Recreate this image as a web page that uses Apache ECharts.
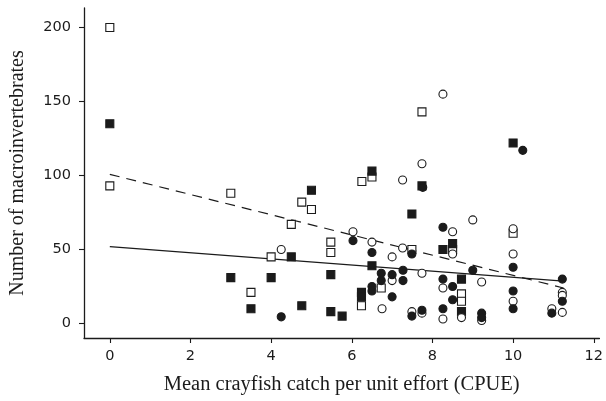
<!DOCTYPE html>
<html>
<head>
<meta charset="utf-8">
<script src="https://cdn.jsdelivr.net/npm/echarts@6/dist/echarts.min.js"></script>
<style>
  html, body { margin: 0; padding: 0; background: #fff; }
  #chart { width: 606px; height: 401px; }
</style>
</head>
<body>
<div id="chart"></div>
<script>
// tick labels
const xTicks = [0, 2, 4, 6, 8, 10, 12];
const yTicks = [0, 50, 100, 150, 200];

// points: [CPUE, count]
const filledSquares = [
  [0, 135], [3, 31], [3.5, 10], [4, 31], [4.5, 45], [4.76, 12], [5.0, 90],
  [5.48, 33], [5.48, 8], [5.76, 5], [6.24, 21], [6.24, 18], [6.5, 103],
  [6.5, 39], [7.49, 74], [7.74, 93], [8.26, 50], [8.5, 54], [8.72, 30],
  [8.72, 8], [10, 122]
];
const openSquares = [
  [0, 200], [0, 93], [3, 88], [3.5, 21], [4, 45], [4.5, 67], [4.76, 82],
  [5.0, 77], [5.48, 55], [5.48, 48], [6.25, 96], [6.5, 99], [6.24, 12],
  [6.73, 24], [7.49, 50], [7.74, 143], [8.5, 50], [8.72, 20], [8.72, 15],
  [10, 61]
];
const filledCircles = [
  [4.25, 4.5], [6.03, 56], [6.5, 48], [6.5, 25], [6.5, 22], [6.73, 34],
  [6.73, 29], [7.0, 33], [7.0, 18], [7.27, 36], [7.27, 29], [7.49, 47],
  [7.49, 5], [7.76, 92], [7.74, 9], [8.26, 65], [8.26, 30], [8.26, 10],
  [8.5, 25], [8.5, 16], [9.0, 36], [9.22, 7], [9.22, 4], [10, 38], [10, 22],
  [10, 10], [10.24, 117], [10.96, 7], [11.22, 30], [11.22, 15]
];
const openCircles = [
  [4.25, 50], [6.03, 62], [6.5, 55], [6.75, 10], [7.0, 45], [7.0, 29],
  [7.26, 97], [7.26, 51], [7.74, 108], [7.74, 34], [7.49, 8], [7.74, 7],
  [8.26, 155], [8.26, 24], [8.26, 3], [8.5, 62], [8.5, 47], [8.72, 4],
  [9.0, 70], [9.22, 28], [9.22, 2], [10, 64], [10, 47], [10, 15],
  [10.96, 10], [11.22, 21], [11.22, 19], [11.22, 7.5]
];

// fitted lines (end points)
const dashedFit = [[0, 100.8], [11.25, 24]];
const solidFit = [[0, 52], [11.25, 28.6]];

const ink = '#1b1b1b';

const chart = echarts.init(document.getElementById('chart'), null, { renderer: 'canvas' });

function scatter(name, data, symbol, filled, size) {
  return {
    name, type: 'scatter', data, symbol, symbolSize: size,
    animation: false, silent: true,
    itemStyle: {
      color: filled ? ink : '#fff',
      borderColor: ink,
      borderWidth: 1.1,
      opacity: 1
    }
  };
}

function fitLine(name, data, dashed) {
  return {
    name, type: 'line', data, symbol: 'none', animation: false, silent: true,
    z: 1,
    lineStyle: { color: ink, width: 1.2, type: dashed ? [10, 7] : 'solid' }
  };
}

chart.setOption({
  backgroundColor: '#fff',
  grid: { left: 84, right: 3, top: 8, bottom: 63, containLabel: false },
  xAxis: {
    type: 'value', min: -0.64, max: 12.14,
    name: 'Mean crayfish catch per unit effort (CPUE)',
    nameLocation: 'middle', nameGap: 36,
    nameTextStyle: { fontFamily: 'Liberation Serif', fontSize: 20.5, color: ink },
    axisLine: { show: true, onZero: false, lineStyle: { color: ink, width: 1.3 } },
    axisTick: { show: true, length: 5, lineStyle: { color: ink, width: 1.1 }, customValues: xTicks },
    axisLabel: {
      fontFamily: 'DejaVu Sans', fontSize: 14.5, color: ink, margin: 11,
      customValues: xTicks
    },
    splitLine: { show: false }
  },
  yAxis: {
    type: 'value', min: -9.8, max: 213.2,
    name: 'Number of macroinvertebrates',
    nameLocation: 'middle', nameGap: 56, nameRotate: 90,
    nameTextStyle: { fontFamily: 'Liberation Serif', fontSize: 20, color: ink },
    axisLine: { show: true, onZero: false, lineStyle: { color: ink, width: 1.3 } },
    axisTick: { show: true, length: 5, lineStyle: { color: ink, width: 1.1 }, customValues: yTicks },
    axisLabel: {
      fontFamily: 'DejaVu Sans', fontSize: 14.5, color: ink, margin: 13,
      customValues: yTicks
    },
    splitLine: { show: false }
  },
  series: [
    fitLine('dashed fit', dashedFit, true),
    fitLine('solid fit', solidFit, false),
    scatter('open squares', openSquares, 'rect', false, 8),
    scatter('filled squares', filledSquares, 'rect', true, 8),
    scatter('open circles', openCircles, 'circle', false, 8),
    scatter('filled circles', filledCircles, 'circle', true, 8)
  ]
});
</script>
</body>
</html>
